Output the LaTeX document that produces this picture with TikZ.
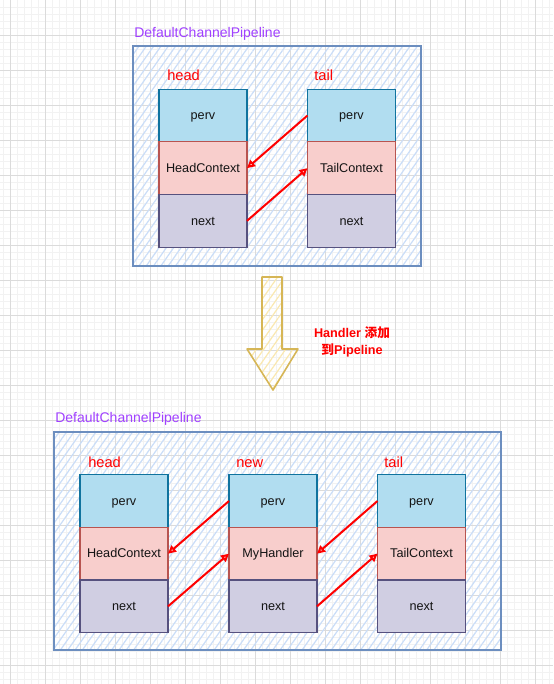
\documentclass[tikz,border=0pt]{standalone}
\usepackage{fontspec}
\setmainfont{Liberation Sans}
\newfontfamily\cjk{Noto Sans CJK SC}
\usetikzlibrary{arrows.meta, positioning, patterns.meta}

\definecolor{pervfill}{HTML}{B1DDF0}
\definecolor{pervline}{HTML}{10739E}
\definecolor{ctxfill}{HTML}{F8CECC}
\definecolor{ctxline}{HTML}{B85450}
\definecolor{nextfill}{HTML}{D0CEE2}
\definecolor{nextline}{HTML}{56517E}
\definecolor{pipeline}{HTML}{6C8EBF}
\definecolor{pipehatch}{HTML}{CADDF8}
\definecolor{titlecol}{HTML}{A040FF}
\definecolor{arrline}{HTML}{D6B656}
\definecolor{arrhatch}{HTML}{FAE8B0}

\begin{document}
\begin{tikzpicture}[
      x=0.75pt, y=-0.75pt,
      node distance=0pt,
      cell/.style={draw, line width=0.9pt, minimum width=66pt, minimum height=39.5pt, inner sep=0pt, outer sep=0pt, text height=1.5ex, text depth=0.3ex, font=\fontsize{9.5}{11}\selectfont, text=black!92},
      pervcell/.style={cell, fill=pervfill, draw=pervline},
      ctxcell/.style={cell, fill=ctxfill, draw=ctxline},
      nextcell/.style={cell, fill=nextfill, draw=nextline},
      pipe/.style={draw=pipeline, line width=1.2pt, inner sep=0pt, pattern={Lines[angle=55, distance=4.5pt, line width=0.9pt]}, pattern color=pipehatch},
      ptitle/.style={anchor=base west, inner sep=0pt, text=titlecol, font=\fontsize{10.5}{12}\selectfont},
      ptr/.style={anchor=base west, inner sep=0pt, text=red, font=\fontsize{11}{13}\selectfont},
      ar/.style={-{Triangle[open, length=6pt, width=6pt]}, red, line width=1.5pt}
    ]
    \useasboundingbox (0,0) rectangle (553,684);
    \fill[white] (0,0) rectangle (553,684);
    % grid
    \foreach \gx in {3,10,...,550} \draw[black!5, line width=0.3pt] (\gx,0) -- (\gx,684);
    \foreach \gy in {7,14,...,680} \draw[black!5, line width=0.3pt] (0,\gy) -- (553,\gy);
    \foreach \gx in {10,45,...,550} \draw[black!14, line width=0.5pt] (\gx,0) -- (\gx,684);
    \foreach \gy in {35,70,...,680} \draw[black!14, line width=0.5pt] (0,\gy) -- (553,\gy);

    % before
    \node[pipe, minimum width=216pt, minimum height=165pt] (pipe1) at (277,156) {};
    \node[ptitle] (title1) at (134,38) {DefaultChannelPipeline};
    \node[ptr] (headlbl1) at (167,81) {head};
    \node[ptr] (taillbl1) at (314,81) {tail};

    \node[pervcell] (hp) at (203,115.5) {perv};
    \node[ctxcell, below=of hp] (hc) {HeadContext};
    \node[nextcell, below=of hc] (hn) {next};
    \node[pervcell] (tp) at (351.5,115.5) {perv};
    \node[ctxcell, below=of tp] (tc) {TailContext};
    \node[nextcell, below=of tc] (tn) {next};
    \draw[ar] (tp.west) -- (hc.east); \draw[ar] (hn.east) -- (tc.west);

    % add handler
    \draw[draw=arrline, line width=1.2pt, line join=round, pattern={Lines[angle=55, distance=4.5pt, line width=0.9pt]}, pattern color=arrhatch]
      (262,277) -- (282,277) -- (282,349) -- (298,349) -- (273,390) -- (247,349) -- (262,349) -- cycle;
    \node[align=center, text=red, inner sep=0pt, font=\fontsize{9.5}{12.75}\selectfont\bfseries] (addlbl) at (352,342) {Handler {\cjk 添加}\\{\cjk 到}Pipeline};

    % after
    \node[pipe, minimum width=335.25pt, minimum height=163.5pt] (pipe2) at (277.5,541) {};
    \node[ptitle] (title2) at (55,422) {DefaultChannelPipeline};
    \node[ptr] (headlbl2) at (88,467) {head};
    \node[ptr] (newlbl2) at (236,467) {new};
    \node[ptr] (taillbl2) at (384,467) {tail};

    \node[pervcell] (bhp) at (124,501) {perv};
    \node[ctxcell, below=of bhp] (bhc) {HeadContext};
    \node[nextcell, below=of bhc] (bhn) {next};
    \node[pervcell] (bmp) at (273,501) {perv};
    \node[ctxcell, below=of bmp] (bmc) {MyHandler};
    \node[nextcell, below=of bmc] (bmn) {next};
    \node[pervcell] (btp) at (421.5,501) {perv};
    \node[ctxcell, below=of btp] (btc) {TailContext};
    \node[nextcell, below=of btc] (btn) {next};
    \draw[ar] (bmp.west) -- (bhc.east); \draw[ar] (btp.west) -- (bmc.east);
    \draw[ar] (bhn.east) -- (bmc.west); \draw[ar] (bmn.east) -- (btc.west);
  \end{tikzpicture}
\end{document}
